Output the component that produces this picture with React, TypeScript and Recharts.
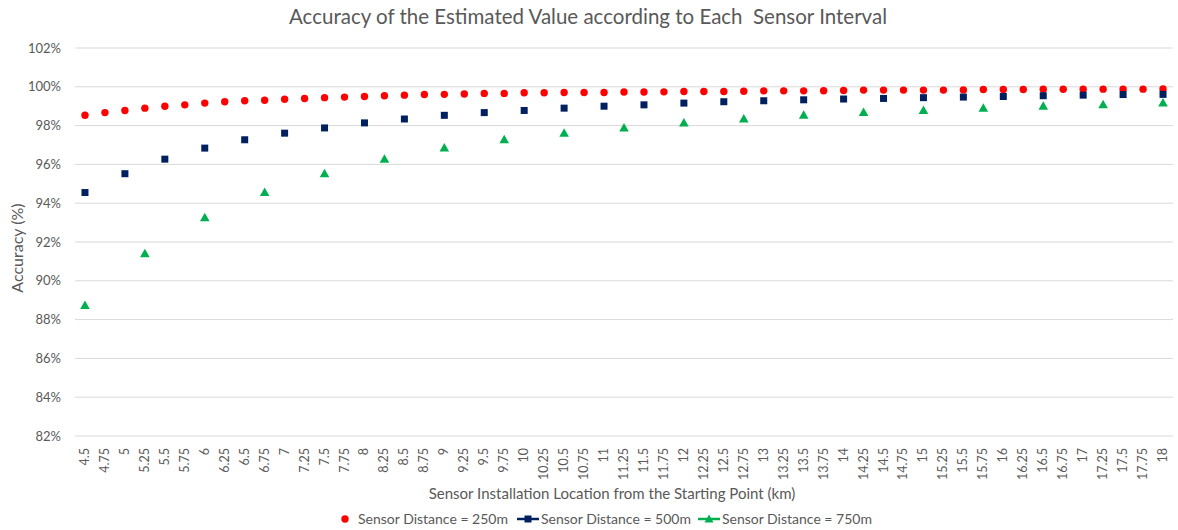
import React from "react";
import { ComposedChart, Line, XAxis, YAxis, CartesianGrid } from "recharts";

// x categories (km)
const categories = [
  "4.5", "4.75", "5", "5.25", "5.5", "5.75", "6", "6.25", "6.5", "6.75",
  "7", "7.25", "7.5", "7.75", "8", "8.25", "8.5", "8.75", "9", "9.25",
  "9.5", "9.75", "10", "10.25", "10.5", "10.75", "11", "11.25", "11.5", "11.75",
  "12", "12.25", "12.5", "12.75", "13", "13.25", "13.5", "13.75", "14", "14.25",
  "14.5", "14.75", "15", "15.25", "15.5", "15.75", "16", "16.25", "16.5", "16.75",
  "17", "17.25", "17.5", "17.75", "18",
];

// 250m - every category
const acc250 = [
  98.53, 98.67, 98.78, 98.9, 99.0, 99.07, 99.16, 99.23, 99.28, 99.31,
  99.36, 99.4, 99.44, 99.47, 99.5, 99.54, 99.57, 99.6, 99.61, 99.63,
  99.66, 99.66, 99.69, 99.69, 99.71, 99.71, 99.71, 99.73, 99.73, 99.74,
  99.76, 99.76, 99.76, 99.77, 99.79, 99.79, 99.79, 99.8, 99.81, 99.83,
  99.83, 99.83, 99.83, 99.83, 99.84, 99.86, 99.86, 99.86, 99.87, 99.87,
  99.88, 99.88, 99.88, 99.88, 99.89,
];

// 500m
const km500 = [
  "4.5", "5", "5.5", "6", "6.5", "7", "7.5", "8", "8.5", "9", "9.5", "10", "10.5", "11",
  "11.5", "12", "12.5", "13", "13.5", "14", "14.5", "15", "15.5", "16", "16.5", "17", "17.5", "18",
];
const acc500 = [
  94.55, 95.52, 96.27, 96.84, 97.27, 97.61, 97.88, 98.14, 98.34, 98.53, 98.67, 98.78, 98.9, 99.0,
  99.07, 99.16, 99.23, 99.28, 99.33, 99.37, 99.4, 99.44, 99.47, 99.5, 99.54, 99.57, 99.6, 99.61,
];

// 750m
const km750 = [
  "4.5", "5.25", "6", "6.75", "7.5", "8.25", "9", "9.75", "10.5", "11.25",
  "12", "12.75", "13.5", "14.25", "15", "15.75", "16.5", "17.25", "18",
];
const acc750 = [
  88.73, 91.4, 93.25, 94.55, 95.52, 96.27, 96.84, 97.27, 97.61, 97.88,
  98.14, 98.34, 98.53, 98.67, 98.78, 98.9, 99.0, 99.07, 99.16,
];

const yTicks = [82, 84, 86, 88, 90, 92, 94, 96, 98, 100, 102];

const RED = "#FF0000";
const NAVY = "#002060";
const GREEN = "#00B050";
const GREY = "#595959";
const FONT = "Lato, 'Open Sans', sans-serif";

const rows = categories.map((km, i) => {
  const bi = km500.indexOf(km);
  const gi = km750.indexOf(km);
  return {
    km,
    r: acc250[i],
    b: bi >= 0 ? acc500[bi] : null,
    g: gi >= 0 ? acc750[gi] : null,
  };
});

const circleDot = (p: any) => {
  if (p.value == null || p.cy == null) return <g key={p.index} />;
  return <circle key={p.index} cx={p.cx} cy={p.cy} r={3.7} fill={RED} />;
};
const squareDot = (p: any) => {
  if (p.value == null || p.cy == null) return <g key={p.index} />;
  return <rect key={p.index} x={p.cx - 3.5} y={p.cy - 3.5} width={7} height={7} fill={NAVY} />;
};
const triDot = (p: any) => {
  if (p.value == null || p.cy == null) return <g key={p.index} />;
  const x = p.cx, y = p.cy;
  return <path key={p.index} d={`M${x},${y - 5}L${x + 4.8},${y + 3.5}L${x - 4.8},${y + 3.5}Z`} fill={GREEN} />;
};

const XTick = ({ x, y, payload }: any) => (
  <g transform={`translate(${x},${y + 4})`}>
    <text transform="rotate(-90)" textAnchor="end" dy={4} fontSize={12.5} fill={GREY} fontFamily={FONT}>
      {payload.value}
    </text>
  </g>
);

export default function App() {
  return (
    <div style={{ position: "absolute", left: 0, top: 0, width: 1178, height: 530, background: "#fff", fontFamily: FONT }}>
      <div style={{ position: "absolute", top: 4, left: 0, width: 1176, textAlign: "center", fontSize: 20.5, color: GREY, whiteSpace: "pre" }}>
        {"Accuracy of the Estimated Value according to Each  Sensor Interval"}
      </div>
      <ComposedChart width={1178} height={530} data={rows} margin={{ top: 48, right: 5, bottom: 0, left: 23 }}>
        <CartesianGrid vertical={false} stroke="#d9d9d9" />
        <XAxis
          dataKey="km"
          scale="band"
          interval={0}
          tick={<XTick />}
          tickLine={false}
          axisLine={false}
          height={94}
        />
        <YAxis
          domain={[82, 102]}
          ticks={yTicks}
          width={52}
          tickMargin={8}
          tickFormatter={(v: number) => `${v}%`}
          tick={{ fontSize: 13, fill: GREY, fontFamily: FONT }}
          tickLine={false}
          axisLine={false}
        />
        <Line dataKey="r" stroke="none" dot={circleDot} activeDot={false} isAnimationActive={false} />
        <Line dataKey="b" stroke="none" dot={squareDot} activeDot={false} isAnimationActive={false} />
        <Line dataKey="g" stroke="none" dot={triDot} activeDot={false} isAnimationActive={false} />
      </ComposedChart>
      <div
        style={{
          position: "absolute", left: 16, top: 248, transform: "translate(-50%,-50%) rotate(-90deg)",
          fontSize: 16, color: GREY, whiteSpace: "nowrap",
        }}
      >
        Accuracy (%)
      </div>
      <div style={{ position: "absolute", top: 484, left: 0, width: 1224, textAlign: "center", fontSize: 15, color: GREY }}>
        Sensor Installation Location from the Starting Point (km)
      </div>
      <div style={{ position: "absolute", top: 510, left: 339, display: "flex", alignItems: "center", fontSize: 14, color: GREY, whiteSpace: "nowrap" }}>
        <svg width={14} height={16}><circle cx={6} cy={8} r={3.7} fill={RED} /></svg>
        <span style={{ marginLeft: 5, marginRight: 9 }}>Sensor Distance = 250m</span>
        <svg width={22} height={16}>
          <line x1={0} y1={8} x2={22} y2={8} stroke={NAVY} strokeWidth={2.5} />
          <rect x={7.5} y={4.5} width={7} height={7} fill={NAVY} />
        </svg>
        <span style={{ marginLeft: 2, marginRight: 7 }}>Sensor Distance = 500m</span>
        <svg width={22} height={16}>
          <line x1={0} y1={8} x2={22} y2={8} stroke={GREEN} strokeWidth={2.5} />
          <path d="M11,3.5L15.5,11.5L6.5,11.5Z" fill={GREEN} />
        </svg>
        <span style={{ marginLeft: 2 }}>Sensor Distance = 750m</span>
      </div>
    </div>
  );
}
